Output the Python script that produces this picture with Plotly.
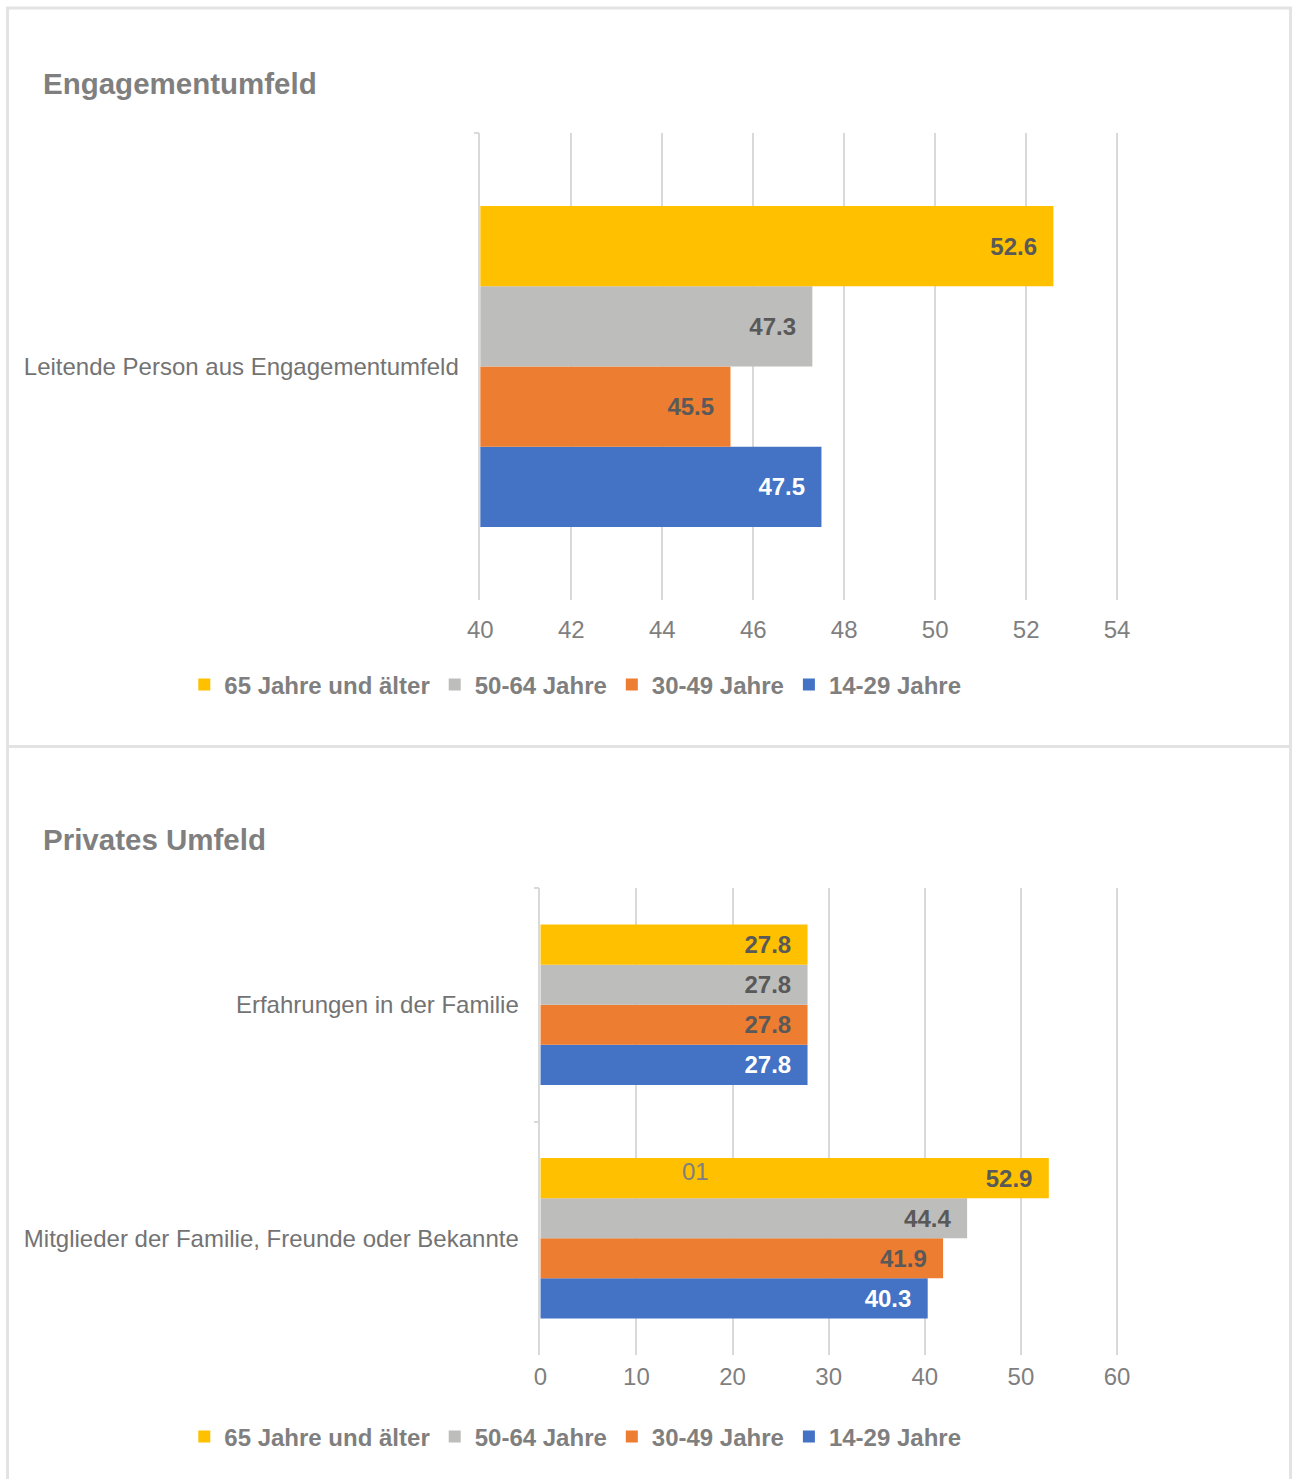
import plotly.graph_objects as go

# ---------------- data ----------------
series_names = ["14-29 Jahre", "30-49 Jahre", "50-64 Jahre", "65 Jahre und älter"]
series_colors = ["#4472C4", "#ED7D31", "#BDBDBB", "#FFC000"]
label_colors = ["#FFFFFF", "#595959", "#595959", "#595959"]

top_title = "Engagementumfeld"
top_categories = ["Leitende Person aus Engagementumfeld"]
top_values = {
    "14-29 Jahre": [47.5],
    "30-49 Jahre": [45.5],
    "50-64 Jahre": [47.3],
    "65 Jahre und älter": [52.6],
}
top_ticks = [40, 42, 44, 46, 48, 50, 52, 54]

bottom_title = "Privates Umfeld"
bottom_categories = ["Erfahrungen in der Familie",
                     "Mitglieder der Familie, Freunde oder Bekannte"]
bottom_values = {
    "14-29 Jahre": [27.8, 40.3],
    "30-49 Jahre": [27.8, 41.9],
    "50-64 Jahre": [27.8, 44.4],
    "65 Jahre und älter": [27.8, 52.9],
}
bottom_ticks = [0, 10, 20, 30, 40, 50, 60]
stray_label = "01"

# ---------------- layout helpers ----------------
W, H = 1292, 1479
FONT = "Liberation Sans, Arial, sans-serif"
GRID = "#D9D9D9"
TXT = "#7F7F7F"
FS = 24


def px(x):
    # horizontal pixel in picture -> paper fraction
    return ((x - 12.5) / 0.981) / W


def py(y):
    return 1 - y / H


fig = go.Figure()

NB = "\u00a0\u00a0"
for name, col, lc in zip(series_names, series_colors, label_colors):
    fig.add_trace(go.Bar(
        name=name, orientation="h",
        x=top_values[name], y=top_categories,
        marker=dict(color=col, line=dict(width=0)),
        texttemplate="<b>%{x:.1f}</b>" + NB,
        textposition="inside", insidetextanchor="end",
        insidetextfont=dict(family=FONT, size=FS, color=lc),
        constraintext="none",
        xaxis="x", yaxis="y", legend="legend",
    ))
for name, col, lc in zip(series_names, series_colors, label_colors):
    fig.add_trace(go.Bar(
        name=name, orientation="h",
        x=bottom_values[name], y=bottom_categories,
        marker=dict(color=col, line=dict(width=0)),
        texttemplate="<b>%{x:.1f}</b>" + NB,
        textposition="inside", insidetextanchor="end",
        insidetextfont=dict(family=FONT, size=FS, color=lc),
        constraintext="none",
        xaxis="x2", yaxis="y2", legend="legend2",
    ))

xcommon = dict(showgrid=True, gridcolor=GRID, gridwidth=1.5, zeroline=False,
               showline=False, ticks="", tickfont=dict(family=FONT, size=FS, color=TXT),
               fixedrange=True)
ycommon = dict(showgrid=False, zeroline=False, showline=True, linecolor=GRID,
               linewidth=1.5, ticks="outside", tickson="boundaries", ticklen=5,
               tickcolor=GRID, tickwidth=1.5,
               tickfont=dict(family=FONT, size=FS, color="#737373"),
               ticklabelstandoff=15, fixedrange=True)

legcommon = dict(orientation="h", xanchor="center", yanchor="middle", x=px(575),
                 traceorder="reversed", font=dict(family=FONT, size=FS, color=TXT, weight="bold"),
                 bgcolor="rgba(0,0,0,0)", itemclick=False, itemdoubleclick=False)

fig.update_layout(
    width=W, height=H,
    margin=dict(l=0, r=0, t=0, b=0),
    paper_bgcolor="white", plot_bgcolor="white",
    barmode="group", bargap=0.313, bargroupgap=0,
    font=dict(family=FONT, color=TXT),
    xaxis=dict(domain=[px(480), px(1118.8)], range=[40, 54.04], tickvals=top_ticks,
               anchor="y", ticklabelstandoff=13, **xcommon),
    yaxis=dict(domain=[py(600), py(133)], anchor="x", categoryorder="array",
               categoryarray=top_categories[::-1], **ycommon),
    xaxis2=dict(domain=[px(540), px(1118.4)], range=[0, 60.15], tickvals=bottom_ticks,
                anchor="y2", ticklabelstandoff=5, **xcommon),
    yaxis2=dict(domain=[py(1355), py(888)], anchor="x2", categoryorder="array",
                categoryarray=bottom_categories[::-1], **ycommon),
    legend=dict(y=py(685), **legcommon),
    legend2=dict(y=py(1437), **legcommon),
    showlegend=True,
)

# panel borders
for (y0, y1) in [(8, 746.5), (746.5, 1482)]:
    fig.add_shape(type="rect", xref="paper", yref="paper",
                  x0=px(7), x1=px(1290.5), y0=py(y1), y1=py(y0),
                  line=dict(color="#E3E3E3", width=3), fillcolor="rgba(0,0,0,0)",
                  layer="below")

# titles
fig.add_annotation(text="<b>" + top_title + "</b>", xref="paper", yref="paper",
                   x=px(41), y=py(84), xanchor="left", yanchor="middle", showarrow=False,
                   font=dict(family=FONT, size=29.5, color=TXT))
fig.add_annotation(text="<b>" + bottom_title + "</b>", xref="paper", yref="paper",
                   x=px(41), y=py(839), xanchor="left", yanchor="middle", showarrow=False,
                   font=dict(family=FONT, size=29.5, color=TXT))
fig.add_annotation(text=stray_label, xref="paper", yref="paper",
                   x=px(695), y=py(1171), xanchor="center", yanchor="middle", showarrow=False,
                   font=dict(family=FONT, size=FS, color=TXT))

fig.write_html(
    "out.html",
    config={"displayModeBar": False},
    post_script=("document.documentElement.style.margin='0';"
                 "document.documentElement.style.overflow='hidden';"
                 "document.body.style.margin='0';"
                 "document.body.style.overflow='hidden';"),
)
